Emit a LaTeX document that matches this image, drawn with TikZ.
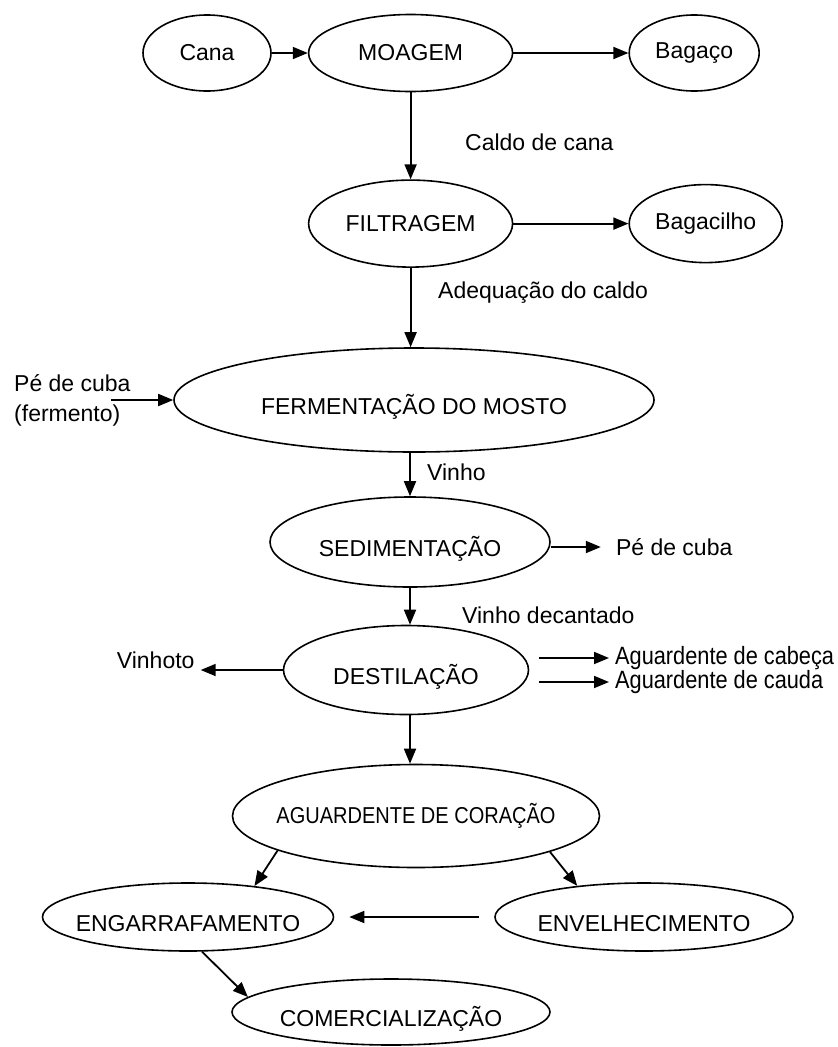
\documentclass[tikz,border=0pt]{standalone}
\usepackage{fontspec}
\setmainfont{Liberation Sans}
\newfontfamily\narrowfont[FakeStretch=0.87]{Liberation Sans}
\usetikzlibrary{arrows.meta, positioning, shapes.geometric}

\begin{document}
\begin{tikzpicture}[
    x=1pt, y=-1pt,
    font=\fontsize{23}{30}\selectfont,
    oval/.style={draw, ellipse, line width=1.6pt, inner sep=-15pt},
    low/.style={text height=28pt, text depth=0pt},
    lbl/.style={inner sep=0pt},
    narrow/.style={font=\narrowfont\fontsize{25}{30}\selectfont},
    arr/.style={-{Triangle[length=15pt, width=12pt]}, line width=1.8pt}
]
\useasboundingbox (0,0) rectangle (838,1047);

\node[oval, minimum width=128pt, minimum height=76pt] (cana) at (207,53) {Cana};
\node[oval, minimum width=204pt, minimum height=77pt, right=36pt of cana] (moagem) {MOAGEM};
\node[oval, minimum width=130pt, minimum height=76pt, right=115pt of moagem] (bagaco) {Bagaço};
\node[oval, minimum width=204pt, minimum height=87pt, below=87pt of moagem] (filtragem) {FILTRAGEM};
\node[oval, minimum width=153pt, minimum height=78pt, right=115pt of filtragem] (bagacilho) {Bagacilho};
\node[oval, low, minimum width=480pt, minimum height=104pt] (fermentacao) at (414,400) {FERMENTAÇÃO DO MOSTO};
\node[oval, low, minimum width=280pt, minimum height=90pt] (sedimentacao) at (410,542) {SEDIMENTAÇÃO};
\node[oval, low, minimum width=245pt, minimum height=89pt] (destilacao) at (406,670) {DESTILAÇÃO};
\node[oval, minimum width=367pt, minimum height=103pt, font=\narrowfont\fontsize{23}{30}\selectfont] (aguardente) at (416,816) {AGUARDENTE DE CORAÇÃO};
\node[oval, low, minimum width=291pt, minimum height=68pt] (engarrafamento) at (188,917) {ENGARRAFAMENTO};
\node[oval, low, minimum width=298pt, minimum height=68pt] (envelhecimento) at (644,917) {ENVELHECIMENTO};
\node[oval, low, minimum width=318pt, minimum height=66pt] (comercializacao) at (391,1012) {COMERCIALIZAÇÃO};

\node[lbl, anchor=west] (caldo) at (465,142) {Caldo de cana};
\node[lbl, anchor=west] (adequacao) at (438,293) {Adequação do caldo};
\node[lbl, anchor=west, align=left] (pecuba) at (14,400) {Pé de cuba\\(fermento)};
\node[lbl, anchor=west] (vinho) at (427,472) {Vinho};
\node[lbl, right=65pt of sedimentacao, yshift=-5pt] (pecubafim) {Pé de cuba};
\node[lbl, anchor=west] (vinhodec) at (462,615) {Vinho decantado};
\node[lbl, left=88pt of destilacao, yshift=10pt] (vinhoto) {Vinhoto};
\node[lbl, narrow, anchor=west] (cabeca) at (615,658) {Aguardente de cabeça};
\node[lbl, narrow, anchor=west] (cauda) at (615,682) {Aguardente de cauda};

\draw[arr] (cana) -- (moagem);
\draw[arr] (moagem) -- (bagaco);
\draw[arr] (moagem) -- (filtragem);
\draw[arr] (filtragem) -- (bagacilho);
\draw[arr] (filtragem.south) -- (filtragem.south |- fermentacao.north);
\draw[arr] ([xshift=-20pt]pecuba.east) -- (fermentacao.west);
\draw[arr] (fermentacao.south -| sedimentacao.north) -- (sedimentacao.north);
\draw[arr, shorten >=15pt] (sedimentacao.east |- pecubafim.west) -- (pecubafim.west);
\draw[arr] (sedimentacao.south) -- (sedimentacao.south |- destilacao.north);
\draw[arr, shorten >=6pt] (destilacao.west) -- (destilacao.west -| vinhoto.east);
\draw[arr, shorten <=10pt, shorten >=6pt] (destilacao.east |- cabeca.west) -- (cabeca.west);
\draw[arr, shorten <=10pt, shorten >=6pt] (destilacao.east |- cauda.west) -- (cauda.west);
\draw[arr] (destilacao.south -| sedimentacao.south) -- (sedimentacao.south |- aguardente.north);
\draw[arr] (aguardente.194) -- (engarrafamento.25);
\draw[arr] (aguardente.345) -- (envelhecimento.155);
\draw[arr, shorten <=15pt, shorten >=15pt] (envelhecimento.west) -- (engarrafamento.east);
\draw[arr] (engarrafamento.292) -- (comercializacao.174);

\end{tikzpicture}
\end{document}
